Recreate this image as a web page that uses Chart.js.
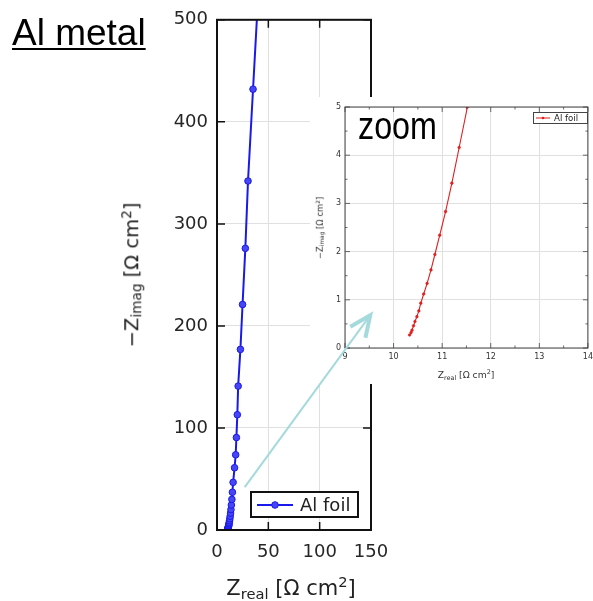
<!DOCTYPE html>
<html>
<head>
<meta charset="utf-8">
<script src="https://cdn.jsdelivr.net/npm/chart.js@4.4.1/dist/chart.umd.min.js"></script>
<style>
  html, body { margin: 0; padding: 0; background: #fff; }
  #wrap { position: relative; width: 593px; height: 601px; overflow: hidden; font-family: "DejaVu Sans", sans-serif; color: #222; }
  #main { position: absolute; left: 0; top: 0; }
  #insetBox { position: absolute; left: 310px; top: 97px; width: 283px; height: 287px; background: #fff; }
  #inset { position: absolute; left: 0; top: 0; }
  .lbl { position: absolute; white-space: nowrap; line-height: 1; }
  .lbl sub, .lbl sup { font-size: 70%; line-height: 0; }
  .lbl sub { vertical-align: -0.25em; }
  .lbl sup { vertical-align: 0.55em; }
  #title { left: 12px; top: 12px; font: 37px "Liberation Sans", Arial, sans-serif; text-decoration: underline; text-underline-offset: 3px; text-decoration-thickness: 2px; color: #000; }
  #zoomTxt { left: 358px; top: 105px; font: 38px "Liberation Sans", Arial, sans-serif; color: #000; transform: scaleX(0.85); transform-origin: left top; }
  #yTitle { left: 132px; top: 275px; font-size: 19.5px; transform: translate(-50%, -50%) rotate(-90deg); }
  #xTitle { left: 291px; top: 578px; font-size: 21px; transform: translateX(-50%); }
  #iyTitle { left: 320px; top: 228px; font-size: 8.4px; transform: translate(-50%, -50%) rotate(-90deg); color: #333; }
  #ixTitle { left: 466px; top: 370px; font-size: 9.2px; transform: translateX(-50%); color: #333; }
  .legend { position: absolute; box-sizing: border-box; background: #fff; display: flex; align-items: center; white-space: nowrap; }
  #legMain { left: 250px; top: 491px; width: 109px; height: 27px; border: 2px solid #111; font-size: 18px; padding-left: 5px; }
  #legMain svg { margin-right: 7px; }
  #legInset { left: 533px; top: 112px; width: 55px; height: 12px; border: 1px solid #444; font-size: 8.6px; padding-left: 2px; color: #222; }
  #legInset svg { margin-right: 4px; }
  #arrow { position: absolute; left: 0; top: 0; pointer-events: none; }
</style>
</head>
<body>
<div id="wrap">
  <canvas id="main" width="593" height="601"></canvas>
  <div id="insetBox"><canvas id="inset" width="287" height="287"></canvas></div>

  <div class="lbl" id="title">Al metal</div>
  <div class="lbl" id="zoomTxt">zoom</div>
  <div class="lbl" id="yTitle">−Z<sub>imag</sub> [Ω cm<sup>2</sup>]</div>
  <div class="lbl" id="xTitle">Z<sub>real</sub> [Ω cm<sup>2</sup>]</div>
  <div class="lbl" id="iyTitle">−Z<sub>imag</sub> [Ω cm<sup>2</sup>]</div>
  <div class="lbl" id="ixTitle">Z<sub>real</sub> [Ω cm<sup>2</sup>]</div>

  <div class="legend" id="legMain">
    <svg width="36" height="12"><line x1="0" y1="6" x2="36" y2="6" stroke="rgb(25,25,235)" stroke-width="2"/><circle cx="18" cy="6" r="3.3" fill="rgb(70,70,245)" stroke="rgb(25,25,235)"/></svg>Al foil
  </div>
  <div class="legend" id="legInset">
    <svg width="14" height="6"><line x1="0" y1="3" x2="14" y2="3" stroke="rgb(225,30,30)" stroke-width="1"/><circle cx="7" cy="3" r="1.3" fill="rgb(225,30,30)"/></svg>Al foil
  </div>

  <svg id="arrow" width="593" height="601"></svg>
</div>

<script>
// Nyquist data, Al foil (real / imaginary impedance, ohm cm2)
const zReal = [10.33, 10.36, 10.38, 10.41, 10.44, 10.48, 10.52, 10.56, 10.62, 10.69,
               10.77, 10.85, 10.95, 11.07, 11.20, 11.35, 11.52, 11.7, 11.95, 12.2,
               12.5, 12.85, 13.2, 13.6, 14.0, 14.5, 15.0, 15.7, 17.1, 18.2,
               18.9, 19.8, 20.6, 22.8, 24.9, 27.6, 30.2, 35.1, 41.0];
const zImag = [0.27, 0.32, 0.37, 0.46, 0.55, 0.65, 0.77, 0.93, 1.12, 1.34,
               1.62, 1.94, 2.34, 2.83, 3.42, 4.16, 5.0, 6.1, 7.4, 9.0,
               11.0, 13.5, 16.5, 20, 24.5, 30, 37, 46.7, 61, 73.7,
               90.6, 113, 141, 177, 221, 276, 342, 432, 540];

const seriesLabel = 'Al foil';
const mainXTicks = [0, 50, 100, 150];
const mainYTicks = [0, 100, 200, 300, 400, 500];
const insetXTicks = [9, 10, 11, 12, 13, 14];
const insetYTicks = [0, 1, 2, 3, 4, 5];

// arrow from the main plot (data coords) into the inset (data coords)
const arrowFrom = { x: 27, y: 42 };
const arrowTo = { x: 9.52, y: 0.68 };

const points = zReal.map((x, i) => ({ x, y: zImag[i] }));

// box round the plot with inward ticks on all four sides
const framePlugin = {
  id: 'frame',
  afterDatasetsDraw(chart, args, o) {
    const { ctx, chartArea: a, scales } = chart;
    ctx.save();
    ctx.strokeStyle = o.color;
    ctx.lineWidth = o.tickWidth;
    ctx.beginPath();
    const mark = (s, v, len) => {
      const p = s.getPixelForValue(v);
      if (s.isHorizontal()) {
        ctx.moveTo(p, a.bottom); ctx.lineTo(p, a.bottom - len);
        ctx.moveTo(p, a.top); ctx.lineTo(p, a.top + len);
      } else {
        ctx.moveTo(a.left, p); ctx.lineTo(a.left + len, p);
        ctx.moveTo(a.right, p); ctx.lineTo(a.right - len, p);
      }
    };
    [scales.x, scales.y].forEach(s => {
      const vals = s.ticks.map(t => t.value);
      vals.forEach(v => mark(s, v, o.major));
      if (o.minor) {
        for (let i = 0; i < vals.length - 1; i++) mark(s, (vals[i] + vals[i + 1]) / 2, o.minor);
      }
    });
    ctx.stroke();
    ctx.lineWidth = o.width;
    ctx.strokeRect(a.left, a.top, a.width, a.height);
    ctx.restore();
  }
};

function axis(min, max, ticks, font, color, pad, fit) {
  return {
    type: 'linear',
    min, max,
    afterBuildTicks: s => { s.ticks = ticks.map(v => ({ value: v })); },
    afterFit: fit,
    grid: { color: '#e0e0e0', lineWidth: 1, drawTicks: false },
    border: { display: false },
    ticks: { font, color, padding: pad, maxRotation: 0, autoSkip: false }
  };
}

const mainFont = { family: 'DejaVu Sans', size: 18 };
const mainChart = new Chart(document.getElementById('main'), {
  type: 'scatter',
  data: {
    datasets: [{
      label: seriesLabel,
      data: points,
      showLine: true,
      borderColor: 'rgb(25,25,235)',
      borderWidth: 2,
      pointRadius: 3.3,
      pointBackgroundColor: 'rgb(70,70,245)',
      pointBorderColor: 'rgb(25,25,235)',
      pointBorderWidth: 1
    }]
  },
  options: {
    responsive: false,
    animation: false,
    layout: { padding: { top: 17, right: 222, bottom: 0, left: 0 } },
    scales: {
      x: axis(0, 150, mainXTicks, mainFont, '#262626', 12, s => { s.height = 71; }),
      y: axis(0, 500, mainYTicks, mainFont, '#262626', 9, s => { s.width = 217; })
    },
    plugins: {
      legend: { display: false },
      tooltip: { enabled: false },
      frame: { color: '#111', width: 2, tickWidth: 1.5, major: 8, minor: 0 }
    }
  },
  plugins: [framePlugin]
});

const insetFont = { family: 'DejaVu Sans', size: 8 };
const insetChart = new Chart(document.getElementById('inset'), {
  type: 'scatter',
  data: {
    datasets: [{
      label: seriesLabel,
      data: points,
      showLine: true,
      borderColor: 'rgb(225,30,30)',
      borderWidth: 1.1,
      pointRadius: 1.3,
      pointBackgroundColor: 'rgb(225,30,30)',
      pointBorderColor: 'rgb(225,30,30)',
      pointBorderWidth: 0.6
    }]
  },
  options: {
    responsive: false,
    animation: false,
    layout: { padding: { top: 10, right: 4, bottom: 0, left: 0 } },
    scales: {
      x: axis(9, 14, insetXTicks, insetFont, '#333', 4, s => { s.height = 36; }),
      y: axis(0, 5, insetYTicks, insetFont, '#333', 4, s => { s.width = 35; })
    },
    plugins: {
      legend: { display: false },
      tooltip: { enabled: false },
      frame: { color: '#444', width: 1, tickWidth: 0.8, major: 5, minor: 2.5 }
    }
  },
  plugins: [framePlugin]
});

// arrow overlay
(function drawArrow() {
  const box = document.getElementById('insetBox');
  const ox = box.offsetLeft, oy = box.offsetTop;
  const x0 = mainChart.scales.x.getPixelForValue(arrowFrom.x);
  const y0 = mainChart.scales.y.getPixelForValue(arrowFrom.y);
  const x1 = ox + insetChart.scales.x.getPixelForValue(arrowTo.x);
  const y1 = oy + insetChart.scales.y.getPixelForValue(arrowTo.y);
  const ang = Math.atan2(y0 - y1, x0 - x1);
  const len = 23, spread = 24 * Math.PI / 180;
  const w1 = [x1 + len * Math.cos(ang + spread), y1 + len * Math.sin(ang + spread)];
  const w2 = [x1 + len * Math.cos(ang - spread), y1 + len * Math.sin(ang - spread)];
  const col = 'rgb(165,218,220)';
  document.getElementById('arrow').innerHTML =
    `<line x1="${x0}" y1="${y0}" x2="${x1 - 3 * Math.cos(ang + Math.PI)}" y2="${y1 - 3 * Math.sin(ang + Math.PI)}" stroke="${col}" stroke-width="2"/>` +
    `<polyline points="${w1.join(',')} ${x1},${y1} ${w2.join(',')}" fill="none" stroke="${col}" stroke-width="4" stroke-linejoin="miter"/>`;
})();
</script>
</body>
</html>
